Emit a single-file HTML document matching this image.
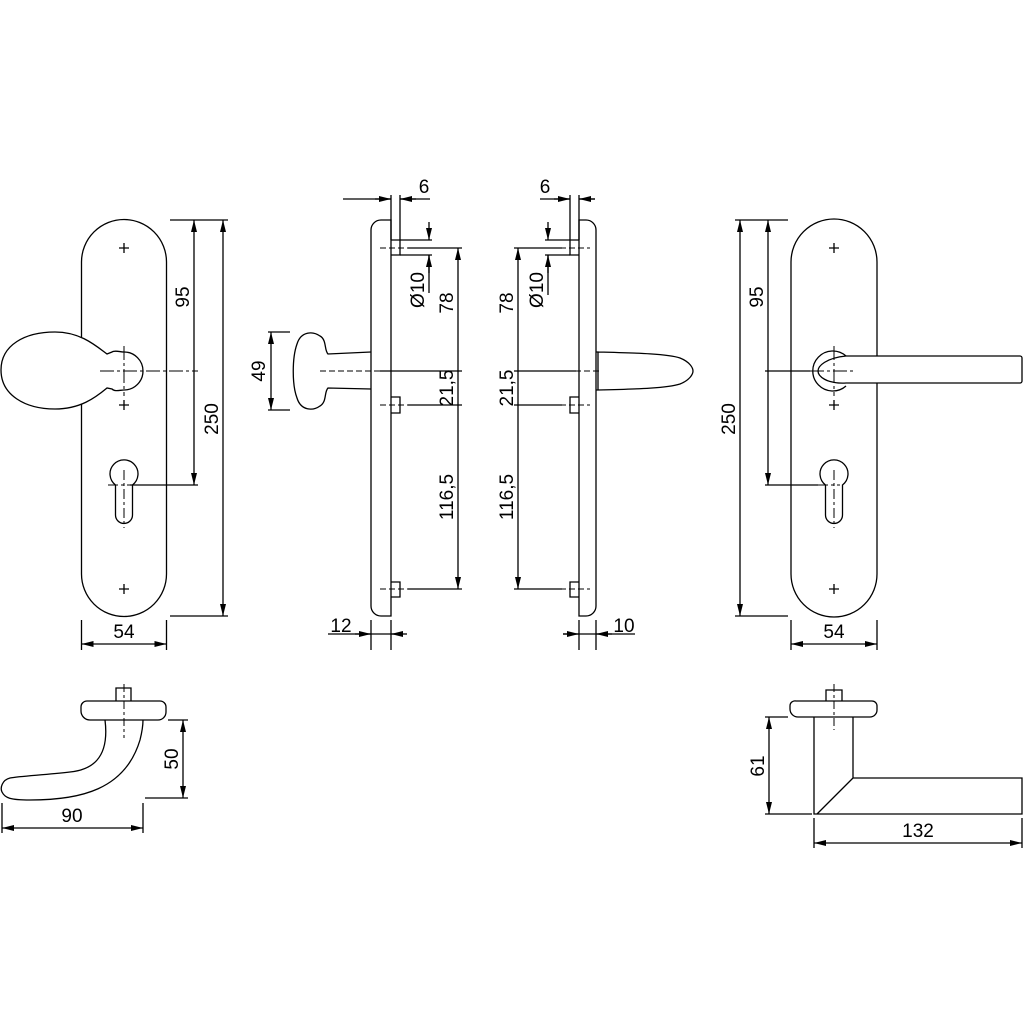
<!DOCTYPE html>
<html><head><meta charset="utf-8"><style>
html,body{margin:0;padding:0;background:#fff}
svg{display:block}
text{font-family:"Liberation Sans",sans-serif;font-size:19px;fill:#000}
</style></head><body>
<svg width="1024" height="1024" viewBox="0 0 1024 1024" xmlns="http://www.w3.org/2000/svg">
<defs>
<marker id="a" viewBox="0 0 12 6" refX="12" refY="3" markerWidth="12" markerHeight="6" markerUnits="userSpaceOnUse" orient="auto-start-reverse"><path d="M0,0L12,3L0,6z" fill="#000"/></marker>
</defs>
<g fill="none" stroke="#000" stroke-width="1.3">
<!-- LEFT PLATE -->
<path d="M81.5,262 A42.5,42.5 0 0 1 166.5,262 V574 A42.5,42.5 0 0 1 81.5,574 Z" fill="#fff"/>
<path d="M119,248h10M124,243v10M119,405h10M124,400v10M119,589h10M124,584v10"/>
<path d="M1,370 C1,345 25,332 55,332 C80,332 95,345 107,354 L112,352 C115,350 120,352 124,352 A19,19 0 0 1 124,390 C120,390 115,392 112,389 L107,388 C95,398 80,409 55,409 C25,409 1,395 1,370 Z" fill="#fff"/>
<path d="M124,346v50M100,371h98" stroke-dasharray="14,3,3,3" stroke-width="1"/>
<path d="M115.5,485 A14,14 0 1 1 132.5,485 V515 A8.5,8.5 0 0 1 115.5,515 Z"/>
<path d="M108,485h22M124,470v58" stroke-dasharray="10,3,3,3" stroke-width="1"/>
<path d="M130,485h68"/>
<path d="M170,220h58M170,616h58"/>
<path d="M194,220V371M194,371V485" marker-start="url(#a)" marker-end="url(#a)"/>
<path d="M223,220V616" marker-start="url(#a)" marker-end="url(#a)"/>
<path d="M81.5,620v30M166.5,620v30"/>
<path d="M81.5,644H166.5" marker-start="url(#a)" marker-end="url(#a)"/>

<!-- MIDDLE LEFT SIDE -->
<path d="M381,220H391V616H381A10,10 0 0 1 371,606V230A10,10 0 0 1 381,220Z"/>
<path d="M391,240h9v15h-9M391,397h9v16h-9M391,582h9v15h-9"/>
<path d="M380,248h28M380,405h28M380,589h28M320,371h60" stroke-dasharray="6,3" stroke-width="1"/>
<path d="M408,248h54M408,405h54M408,589h54M380,371h82"/>
<path d="M458,248V371M458,371V405M458,405V589" marker-start="url(#a)" marker-end="url(#a)"/>
<path d="M371,352 L328,354 C324,350 327,340 320,336 C313,331 301,331 297,344 C292,358 292,385 297,398 C301,411 313,411 320,406 C327,402 324,392 328,388 L371,389"/>
<path d="M268,332h22M268,410h22"/>
<path d="M271,332V410" marker-start="url(#a)" marker-end="url(#a)"/>
<path d="M391,195v45M400,195v45"/>
<path d="M343,199h48M400,199h30"/>
<path d="M375,199h16" marker-end="url(#a)"/><path d="M416,199h-16" marker-end="url(#a)"/>
<path d="M400,240h32M400,255h32"/>
<path d="M429,222v18" marker-end="url(#a)"/><path d="M429,273v-18" marker-end="url(#a)"/>
<path d="M429,255v38"/>
<path d="M371,620v30M391,620v30"/>
<path d="M328,634h70"/>
<path d="M355,634h16" marker-end="url(#a)"/><path d="M407,634h-16" marker-end="url(#a)"/>

<!-- MIDDLE RIGHT SIDE -->
<path d="M579,220H586A10,10 0 0 1 596,230V606A10,10 0 0 1 586,616H579Z"/>
<path d="M579,240h-9v15h9M579,397h-9v16h9M579,582h-9v15h9"/>
<path d="M560,248h30M560,405h30M560,589h30M575,371h26" stroke-dasharray="6,3" stroke-width="1"/>
<path d="M514,248h48M514,405h48M514,589h48M514,371h62"/>
<path d="M518,248V371M518,371V405M518,405V589" marker-start="url(#a)" marker-end="url(#a)"/>
<path d="M596,352h2v38h-2M598,352 C640,353 668,354 680,358 C690,362 693,368 693,371 C693,374 690,380 680,384 C668,388 640,389 598,390"/>
<path d="M570,195v45M579,195v45"/>
<path d="M540,199h30M579,199h16"/>
<path d="M554,199h16" marker-end="url(#a)"/><path d="M595,199h-16" marker-end="url(#a)"/>
<path d="M545,240h25M545,255h25"/>
<path d="M548,222v18" marker-end="url(#a)"/><path d="M548,273v-18" marker-end="url(#a)"/>
<path d="M548,255v40"/>
<path d="M579,620v30M596,620v30"/>
<path d="M563,634h72"/>
<path d="M563,634h16" marker-end="url(#a)"/><path d="M612,634h-16" marker-end="url(#a)"/>

<!-- RIGHT PLATE -->
<path d="M791,262 A43,43 0 0 1 877,262 V574 A43,43 0 0 1 791,574 Z" fill="#fff"/>
<path d="M829,248h10M834,243v10M829,405h10M834,400v10M829,589h10M834,584v10"/>
<path d="M846,356H1020A2,2 0 0 1 1022,358V381A2,2 0 0 1 1020,383H846" fill="#fff"/>
<path d="M846,356 A20,20 0 1 0 846,386"/>
<path d="M846,356 C826,358 818,366 818,371 C818,376 826,384 846,383"/>
<path d="M834,346v50M810,371h46" stroke-dasharray="14,3,3,3" stroke-width="1"/>
<path d="M765,371h45"/>
<path d="M825.5,485 A14,14 0 1 1 842.5,485 V515 A8.5,8.5 0 0 1 825.5,515 Z"/>
<path d="M818,485h22M834,470v58" stroke-dasharray="10,3,3,3" stroke-width="1"/>
<path d="M765,485h53"/>
<path d="M735,220h53M735,616h53"/>
<path d="M768,220V371M768,371V485" marker-start="url(#a)" marker-end="url(#a)"/>
<path d="M740,220V616" marker-start="url(#a)" marker-end="url(#a)"/>
<path d="M791,620v30M877,620v30"/>
<path d="M791,644H877" marker-start="url(#a)" marker-end="url(#a)"/>

<!-- BOTTOM LEFT -->
<path d="M116,701v-13h15v13"/>
<path d="M87,701H160A6,6 0 0 1 166,707V712A8,8 0 0 1 158,720H90A9,9 0 0 1 81,711V707A6,6 0 0 1 87,701Z"/>
<path d="M124,684v54" stroke-dasharray="8,3,3,3" stroke-width="1"/>
<path d="M105,720 C110,760 90,770 70,772 C45,775 20,776 10,778 C2,780 0,788 2,792 C5,798 10,800 30,800 C80,800 125,790 140,740 C142,732 143,726 143,720"/>
<path d="M168,720h20M145,798h43"/>
<path d="M183,720V798" marker-start="url(#a)" marker-end="url(#a)"/>
<path d="M2,803v30M143,803v30"/>
<path d="M2,828H143" marker-start="url(#a)" marker-end="url(#a)"/>

<!-- BOTTOM RIGHT -->
<path d="M826,701v-11h16v11"/>
<path d="M796,701H872A5,5 0 0 1 877,706V710A7,7 0 0 1 870,717H798A8,8 0 0 1 790,709V706A5,5 0 0 1 796,701Z"/>
<path d="M834,684v46" stroke-dasharray="8,3,3,3" stroke-width="1"/>
<path d="M814,717V814H1022V778H853V717M853,778L817,814"/>
<path d="M765,717h23M765,814h47"/>
<path d="M769,717V814" marker-start="url(#a)" marker-end="url(#a)"/>
<path d="M814,818v30M1022,818v30"/>
<path d="M814,843H1022" marker-start="url(#a)" marker-end="url(#a)"/>
</g>
<g>
<text transform="translate(189,297) rotate(-90)" text-anchor="middle">95</text>
<text transform="translate(218,419) rotate(-90)" text-anchor="middle">250</text>
<text x="124" y="638" text-anchor="middle">54</text>
<text transform="translate(265,371) rotate(-90)" text-anchor="middle">49</text>
<text x="424" y="193" text-anchor="middle">6</text>
<text transform="translate(424,290) rotate(-90)" text-anchor="middle">Ø10</text>
<text transform="translate(453,303) rotate(-90)" text-anchor="middle">78</text>
<text transform="translate(453,388) rotate(-90)" text-anchor="middle">21,5</text>
<text transform="translate(453,497) rotate(-90)" text-anchor="middle">116,5</text>
<text x="341" y="632" text-anchor="middle">12</text>
<text x="545" y="193" text-anchor="middle">6</text>
<text transform="translate(543,290) rotate(-90)" text-anchor="middle">Ø10</text>
<text transform="translate(513,303) rotate(-90)" text-anchor="middle">78</text>
<text transform="translate(513,388) rotate(-90)" text-anchor="middle">21,5</text>
<text transform="translate(513,497) rotate(-90)" text-anchor="middle">116,5</text>
<text x="624" y="632" text-anchor="middle">10</text>
<text transform="translate(763,297) rotate(-90)" text-anchor="middle">95</text>
<text transform="translate(735,419) rotate(-90)" text-anchor="middle">250</text>
<text x="834" y="638" text-anchor="middle">54</text>
<text transform="translate(178,759) rotate(-90)" text-anchor="middle">50</text>
<text x="72" y="822" text-anchor="middle">90</text>
<text transform="translate(764,766) rotate(-90)" text-anchor="middle">61</text>
<text x="918" y="837" text-anchor="middle">132</text>
</g>
</svg>
</body></html>
